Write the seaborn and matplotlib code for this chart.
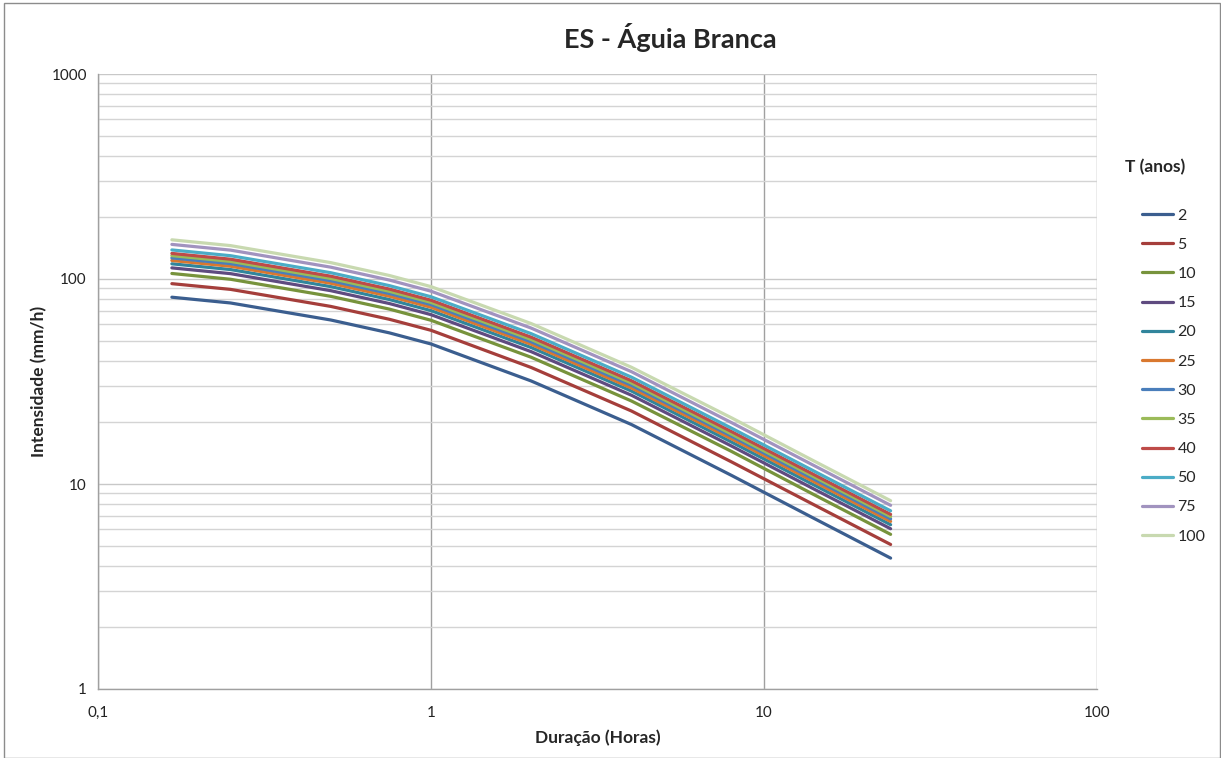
import matplotlib
matplotlib.use("Agg")
import matplotlib.pyplot as plt
from matplotlib.ticker import FixedLocator, FixedFormatter, LogLocator, NullFormatter
from matplotlib.patches import Rectangle
import seaborn as sns
import pandas as pd

# ---- data ----
durations_h = [10/60, 15/60, 30/60, 45/60, 1, 2, 4, 8, 14, 24]
return_periods = ["2", "5", "10", "15", "20", "25", "30", "35", "40", "50", "75", "100"]

i_T2 = [81.5, 76.4, 63.1, 54.6, 48.2, 31.8, 19.5, 11.0, 6.85, 4.35]
i_T5 = [94.9, 89.0, 73.5, 63.6, 56.2, 37.0, 22.7, 12.8, 7.98, 5.07]
i_T10 = [106.4, 99.7, 82.3, 71.3, 62.9, 41.5, 25.4, 14.4, 8.94, 5.68]
i_T15 = [113.3, 106.2, 87.7, 75.9, 67.0, 44.2, 27.1, 15.3, 9.52, 6.05]
i_T20 = [118.6, 111.2, 91.8, 79.4, 70.1, 46.3, 28.4, 16.0, 9.97, 6.33]
i_T25 = [123.1, 115.4, 95.3, 82.4, 72.8, 48.0, 29.4, 16.6, 10.34, 6.57]
i_T30 = [126.7, 118.8, 98.1, 84.9, 75.0, 49.4, 30.3, 17.1, 10.65, 6.76]
i_T35 = [130.0, 121.9, 100.6, 87.1, 76.9, 50.7, 31.1, 17.5, 10.93, 6.94]
i_T40 = [133.3, 124.9, 103.2, 89.3, 78.8, 52.0, 31.9, 18.0, 11.20, 7.11]
i_T50 = [138.6, 129.9, 107.3, 92.8, 81.9, 54.1, 33.2, 18.7, 11.65, 7.40]
i_T75 = [147.5, 138.3, 114.2, 98.8, 87.2, 57.6, 35.3, 19.9, 12.40, 7.87]
i_T100 = [155.3, 145.5, 120.2, 104.0, 91.8, 60.6, 37.1, 21.0, 13.05, 8.29]

series = [i_T2, i_T5, i_T10, i_T15, i_T20, i_T25, i_T30, i_T35, i_T40, i_T50, i_T75, i_T100]

colors = ["#3B5E8F", "#A53E3B", "#77933C", "#5F4B80", "#31859C", "#D9782F",
          "#4A7EBB", "#9BBB59", "#BE4B48", "#4BACC6", "#A193BF", "#C8D9B0"]

x_ticks = [0.1, 1, 10, 100]
x_tick_labels = ["0,1", "1", "10", "100"]
y_ticks = [1, 10, 100, 1000]
y_tick_labels = ["1", "10", "100", "1000"]

rows = []
for T, vals in zip(return_periods, series):
    for d, v in zip(durations_h, vals):
        rows.append({"Duração": d, "Intensidade": v, "T": T})
df = pd.DataFrame(rows)

# ---- figure ----
sns.set_style("white")
plt.rcParams["font.family"] = ["Lato", "DejaVu Sans"]

fig = plt.figure(figsize=(12.21, 7.58), dpi=100)
ax = fig.add_axes([98/1221, 1 - 689/758, (1097-98)/1221, (689-74)/758])

palette = dict(zip(return_periods, colors))
sns.lineplot(data=df, x="Duração", y="Intensidade", hue="T", hue_order=return_periods,
             palette=palette, sort=False, linewidth=2.3, ax=ax, legend=True)

ax.set_xscale("log")
ax.set_yscale("log")
ax.set_xlim(0.1, 100)
ax.set_ylim(1, 1000)

ax.xaxis.set_major_locator(FixedLocator(x_ticks))
ax.xaxis.set_major_formatter(FixedFormatter(x_tick_labels))
ax.xaxis.set_minor_locator(FixedLocator([]))
ax.yaxis.set_major_locator(FixedLocator(y_ticks))
ax.yaxis.set_major_formatter(FixedFormatter(y_tick_labels))
ax.yaxis.set_minor_locator(LogLocator(base=10, subs=range(2, 10)))
ax.yaxis.set_minor_formatter(NullFormatter())

ax.grid(True, which="major", axis="x", color="#A0A0A0", linewidth=1.0)
ax.grid(True, which="major", axis="y", color="#C8C8C8", linewidth=1.0)
ax.grid(True, which="minor", axis="y", color="#D4D4D4", linewidth=1.0)
ax.set_axisbelow(True)

for side in ["top", "right"]:
    ax.spines[side].set_visible(False)
for side in ["left", "bottom"]:
    ax.spines[side].set_color("#A0A0A0")
    ax.spines[side].set_linewidth(1.0)

ax.tick_params(axis="both", which="major", length=5, color="#A0A0A0",
               labelsize=11, labelcolor="#222222", pad=3)
ax.tick_params(axis="x", which="major", pad=7)
ax.tick_params(axis="y", which="minor", length=0)

ax.set_xlabel("Duração (Horas)", fontsize=12.5, fontweight="bold", labelpad=7)
ax.set_ylabel("Intensidade (mm/h)", fontsize=12.5, fontweight="bold", labelpad=3)

fig.text(670/1221, 1 - 38/758, "ES - Águia Branca", ha="center", va="center",
         fontsize=19.5, fontweight="bold")

# legend
handles, labels = ax.get_legend_handles_labels()
ax.legend(handles, labels, loc="upper left", bbox_to_anchor=(1128/1221, 1 - 194/758),
          bbox_transform=fig.transFigure, frameon=False, fontsize=11.5,
          handlelength=1.9, handletextpad=0.3, labelspacing=0.94)
fig.text(1155/1221, 1 - 167/758, "T (anos)", ha="center", va="center",
         fontsize=12.5, fontweight="bold")

# outer chart border
fig.patches.append(Rectangle((4/1221, 0), 1 - 5/1221, 1 - 3/758, transform=fig.transFigure,
                             fill=False, edgecolor="#8C8C8C", linewidth=1.0))

fig.savefig("out.png", dpi=100)
